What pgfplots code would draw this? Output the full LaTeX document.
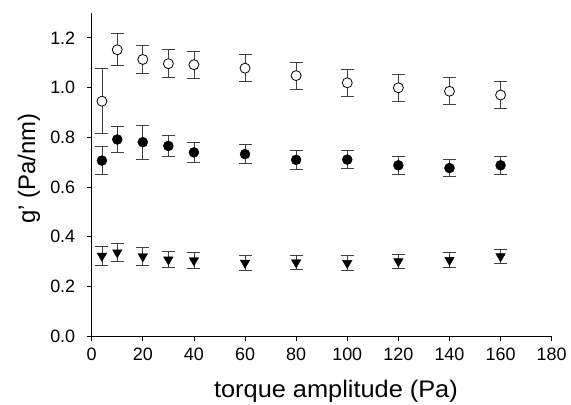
\documentclass[border=0pt]{standalone}
\usepackage{fontspec}
\setmainfont{Liberation Sans}
\usepackage{pgfplots}
\pgfplotsset{compat=1.18}
\usepackage{pgfplotstable}
\pgfplotstableread{
x y e
4 0.945 0.131
10 1.152 0.064
20 1.113 0.058
30 1.096 0.056
40 1.092 0.055
60 1.078 0.055
80 1.048 0.055
100 1.019 0.055
120 0.999 0.055
140 0.985 0.054
160 0.970 0.054
}\opendata
\pgfplotstableread{
x y e
4 0.706 0.057
10 0.791 0.053
20 0.780 0.068
30 0.765 0.041
40 0.739 0.040
60 0.732 0.038
80 0.709 0.038
100 0.710 0.037
120 0.687 0.037
140 0.676 0.035
160 0.687 0.037
}\filleddata
\pgfplotstableread{
x y e
4 0.3225 0.038
10 0.336 0.036
20 0.320 0.036
30 0.3075 0.033
40 0.304 0.032
60 0.2945 0.031
80 0.296 0.029
100 0.2935 0.030
120 0.3005 0.029
140 0.3055 0.030
160 0.3205 0.029
}\tridata
\definecolor{errc}{HTML}{404040}
\newcommand{\tf}{\fontsize{18}{18}\selectfont}
\begin{document}
\begin{tikzpicture}
\path[use as bounding box] (0,0) rectangle (571bp,-405bp);
\begin{axis}[
  at={(91.7bp,-336bp)}, anchor=south west,
  scale only axis, width=460bp, height=323bp,
  xmin=0, xmax=180, ymin=0, ymax=1.3,
  axis x line=bottom, axis y line=left,
  axis line style={-, line width=0.9bp},
  xtick={0,20,40,60,80,100,120,140,160,180},
  xticklabels={{\tf 0},{\tf 20},{\tf 40},{\tf 60},{\tf 80},{\tf 100},{\tf 120},{\tf 140},{\tf 160},{\tf 180}},
  ytick={0,0.2,0.4,0.6,0.8,1.0,1.2},
  yticklabels={{\tf 0.0},{\tf 0.2},{\tf 0.4},{\tf 0.6},{\tf 0.8},{\tf 1.0},{\tf 1.2}},
  tick align=outside, major tick length=5bp,
  tick style={black, line width=0.8bp},
  yticklabel style={font=\tf, xshift=-8bp},
  xticklabel style={font=\tf, yshift=-3bp},
  xlabel={torque amplitude (Pa)}, ylabel={g' (Pa/nm)},
  every axis label/.append style={font=\fontsize{24}{24}\selectfont},
  xlabel style={at={(axis description cs:0.531,0)}, anchor=center, yshift=-55bp, xscale=1.06},
  ylabel style={at={(axis description cs:0,0.519)}, anchor=center, yshift=62.7bp},
  clip=false,
  error bars/error bar style={errc, line width=0.8bp},
  error bars/error mark options={rotate=90, mark size=6.5bp, errc, line width=0.8bp},
]
\addplot[only marks, mark=*, mark size=5bp, mark options={fill=white, draw=black, line width=0.8bp},
  error bars/.cd, y dir=both, y explicit] table[x=x, y=y, y error=e] {\opendata};
\addplot[only marks, mark=*, mark size=5bp, mark options={fill=black, draw=black},
  error bars/.cd, y dir=both, y explicit] table[x=x, y=y, y error=e] {\filleddata};
\addplot[only marks, mark=triangle*, mark size=5.5bp, mark options={fill=black, draw=black, rotate=180},
  error bars/.cd, y dir=both, y explicit] table[x=x, y=y, y error=e] {\tridata};
\end{axis}
\end{tikzpicture}
\end{document}
